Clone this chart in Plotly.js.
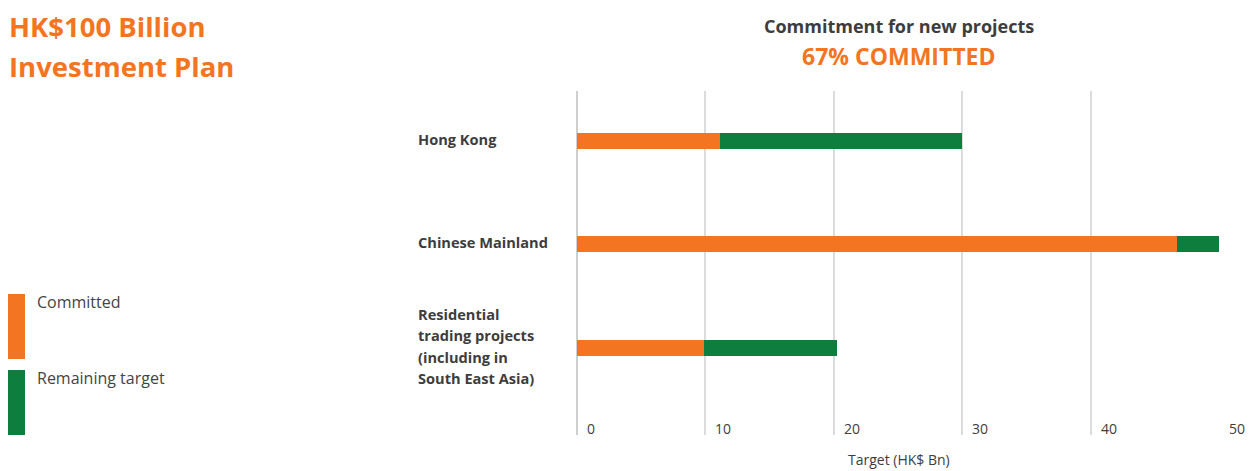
<!DOCTYPE html>
<html>
<head>
<meta charset="utf-8">
<script src="https://cdn.plot.ly/plotly-3.0.1.min.js"></script>
<style>html,body{margin:0;padding:0;background:#fff;}#chart{width:1250px;height:471px;}</style>
</head>
<body>
<div id="chart"></div>
<script>
// ---- data ----
const categories = ["Hong Kong", "Chinese Mainland", "Residential<br>trading projects<br>(including in<br>South East Asia)"];
const committed = [11.1, 46.7, 9.9];
const remaining = [18.9, 3.3, 10.3];
const seriesNames = ["Committed", "Remaining target"];
const xTicks = [0, 10, 20, 30, 40, 50];
const mainTitle = ["HK$100 Billion", "Investment Plan"];
const chartTitle = "Commitment for new projects";
const chartSubtitle = "67% COMMITTED";
const xAxisTitle = "Target (HK$ Bn)";

// ---- layout helpers ----
const W = 1250, H = 471;
const M = {l: 577, r: 30, t: 91, b: 36};
const PW = W - M.l - M.r, PH = H - M.t - M.b;
const px = x => (x - M.l) / PW;
const py = y => (H - M.b - y) / PH;

const ORANGE = "#F47521";
const GREEN = "#0E7E3F";
const DARK = "#3d3d3d";
const FONT = "Open Sans, sans-serif";

const yIdx = categories.map((c, i) => i);

const traces = [
  {type: "bar", orientation: "h", name: seriesNames[0], y: yIdx, x: committed,
   marker: {color: ORANGE}, width: 0.155, hoverinfo: "x+name"},
  {type: "bar", orientation: "h", name: seriesNames[1], y: yIdx, x: remaining,
   marker: {color: GREEN}, width: 0.155, hoverinfo: "x+name"}
];

const annotations = [];
// main title
mainTitle.forEach((t, i) => annotations.push({
  text: "<b>" + t + "</b>", xref: "paper", yref: "paper", x: px(7), y: py(i === 0 ? 27 : 66),
  xanchor: "left", yanchor: "middle", showarrow: false,
  font: {family: FONT, size: 27.5, color: ORANGE}
}));
// chart titles
annotations.push({text: "<b>" + chartTitle + "</b>", xref: "paper", yref: "paper",
  x: px(899), y: py(26), xanchor: "center", yanchor: "middle", showarrow: false,
  font: {family: FONT, size: 18, color: DARK}});
annotations.push({text: "<b>" + chartSubtitle + "</b>", xref: "paper", yref: "paper",
  x: px(899), y: py(56), xanchor: "center", yanchor: "middle", showarrow: false,
  font: {family: FONT, size: 23, color: ORANGE}});
// category labels (left aligned), line by line
categories.forEach((c, i) => {
  const lines = c.split("<br>");
  const lh = 21.5;
  lines.forEach((ln, j) => {
    annotations.push({text: "<b>" + ln + "</b>", xref: "paper", yref: "y",
      x: px(416), y: i, yshift: -((j - (lines.length - 1) / 2) * lh) + 2,
      xanchor: "left", yanchor: "middle", showarrow: false,
      font: {family: FONT, size: 14.6, color: DARK}});
  });
});
// x tick labels, right of each gridline near bottom
xTicks.forEach(v => annotations.push({text: String(v), xref: "x", yref: "paper",
  x: v, y: py(428), xanchor: "left", yanchor: "middle", xshift: 8, showarrow: false,
  font: {family: FONT, size: 14, color: DARK}}));
// axis title
annotations.push({text: xAxisTitle, xref: "paper", yref: "paper", x: 0.5, y: py(460),
  xanchor: "center", yanchor: "middle", showarrow: false,
  font: {family: FONT, size: 14, color: DARK}});
// legend
const legendColors = [ORANGE, GREEN];
const legendTop = [294, 370];
const shapes = [];
seriesNames.forEach((n, i) => {
  shapes.push({type: "rect", xref: "paper", yref: "paper", x0: px(8), x1: px(25),
    y0: py(legendTop[i]), y1: py(legendTop[i] + 65), fillcolor: legendColors[i], line: {width: 0}});
  annotations.push({text: n, xref: "paper", yref: "paper", x: px(35), y: py(legendTop[i] + 8),
    xanchor: "left", yanchor: "middle", showarrow: false,
    font: {family: FONT, size: 16, color: "#444"}});
});

const layout = {
  width: W, height: H,
  margin: M,
  paper_bgcolor: "#fff", plot_bgcolor: "#fff",
  barmode: "stack",
  showlegend: false,
  font: {family: FONT, color: DARK},
  xaxis: {range: [0, 50.05], tickvals: xTicks, showticklabels: false,
    showgrid: true, gridcolor: "#dcdcdc", gridwidth: 2,
    zeroline: true, zerolinecolor: "#cfcfcf", zerolinewidth: 2,
    showline: false, fixedrange: true},
  yaxis: {range: [2.84, -0.48], showticklabels: false, showgrid: false,
    zeroline: false, showline: false, fixedrange: true},
  annotations: annotations,
  shapes: shapes
};

Plotly.newPlot("chart", traces, layout, {displayModeBar: false, staticPlot: true});
</script>
</body>
</html>
